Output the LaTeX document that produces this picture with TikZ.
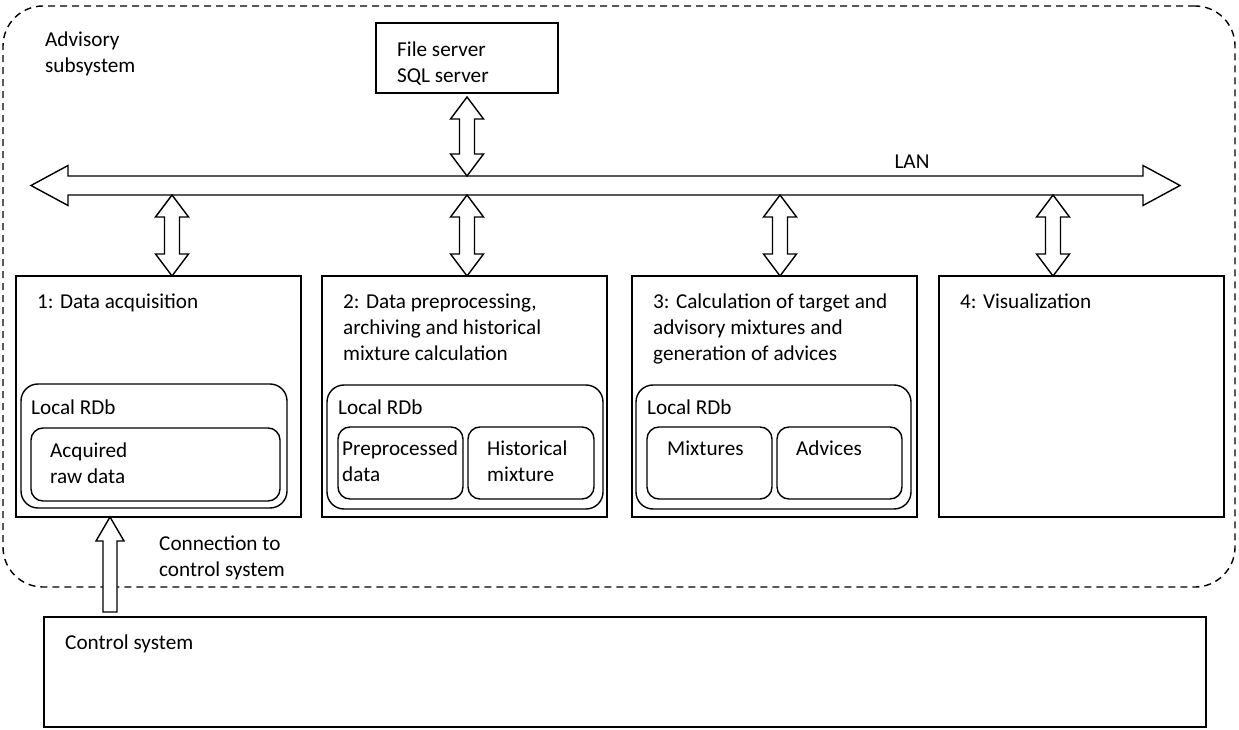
\documentclass[tikz,border=0pt]{standalone}
\usepackage{fontspec}
\setmainfont{Carlito}
\usetikzlibrary{calc}
\newcommand\dfont{\fontsize{21.2}{26}\selectfont}
\tikzset{
  x=1pt,y=1pt,
  ln/.style={line width=1.4pt, black},
  box/.style={ln, draw, inner sep=0, outer sep=0, anchor=south west},
  rbox/.style={box, rounded corners=17pt},
  ibox/.style={box, rounded corners=12pt},
  advbox/.style={box, rounded corners=40pt, dash pattern=on 7pt off 5pt},
  txt/.style={inner sep=0, anchor=north west, align=left, font=\dfont},
  blk/.style={ln, draw, fill=white, line join=miter},
}
% vertical double block arrow: #1 top tip, #2 bottom tip
\newcommand\vdbl[2]{\draw[blk] let \p1=#1, \p2=#2 in
  (\x1,\y1) -- (\x1+16.5pt,\y1-22pt) -- (\x1+7.5pt,\y1-22pt) -- (\x1+7.5pt,\y2+22pt)
  -- (\x1+16.5pt,\y2+22pt) -- (\x1,\y2) -- (\x1-16.5pt,\y2+22pt) -- (\x1-7.5pt,\y2+22pt)
  -- (\x1-7.5pt,\y1-22pt) -- (\x1-16.5pt,\y1-22pt) -- cycle;}
% horizontal double block arrow: #1 left tip, #2 right tip
\newcommand\hdbl[2]{\draw[blk] let \p1=#1, \p2=#2 in
  (\x1,\y1) -- (\x1+37pt,\y1+20pt) -- (\x1+37pt,\y1+9.5pt) -- (\x2-37pt,\y1+9.5pt)
  -- (\x2-37pt,\y1+20pt) -- (\x2,\y1) -- (\x2-37pt,\y1-20pt) -- (\x2-37pt,\y1-9.5pt)
  -- (\x1+37pt,\y1-9.5pt) -- (\x1+37pt,\y1-20pt) -- cycle;}
% vertical single block arrow: #1 tip (top), #2 tail (bottom)
\newcommand\vup[2]{\draw[blk] let \p1=#1, \p2=#2 in
  (\x1,\y1) -- (\x1+14pt,\y1-24pt) -- (\x1+7pt,\y1-24pt) -- (\x1+7pt,\y2)
  -- (\x1-7pt,\y2) -- (\x1-7pt,\y1-24pt) -- (\x1-14pt,\y1-24pt) -- cycle;}
\begin{document}
\begin{tikzpicture}
\useasboundingbox (0,0) rectangle (1239,729);
\fill[white] (0,0) rectangle (1239,729);

% outer dashed subsystem
\node[advbox, minimum width=1232, minimum height=581] (adv) at (3,142) {};
\node[txt] (advlbl) at (45,697) {Advisory\\subsystem};

% server
\node[box, minimum width=182, minimum height=70] (srv) at (376,636) {};
\node[txt] (srvlbl) at (397,687) {File server\\SQL server};

% LAN bus
\coordinate (lanL) at (31,543.5);
\coordinate (lanR) at (1180,543.5);
\coordinate (lanT) at (467,553);
\hdbl{(lanL)}{(lanR)}
\node[inner sep=0, font=\dfont] (lanlbl) at (912,567) {LAN};

% modules
\node[box, minimum width=285, minimum height=241] (b1) at (16,212) {};
\node[box, minimum width=285, minimum height=241] (b2) at (322,212) {};
\node[box, minimum width=285, minimum height=241] (b3) at (632,212) {};
\node[box, minimum width=285, minimum height=241] (b4) at (939,212) {};
\node[txt] (t1) at (37,435) {1: Data acquisition};
\node[txt] (t2) at (343,435) {2: Data preprocessing,\\archiving and historical\\mixture calculation};
\node[txt] (t3) at (653,435) {3: Calculation of target and\\advisory mixtures and\\generation of advices};
\node[txt] (t4) at (960,435) {4: Visualization};

% local databases
\node[rbox, minimum width=266, minimum height=124] (r1) at (21,221) {};
\node[rbox, minimum width=276, minimum height=124] (r2) at (327,220) {};
\node[rbox, minimum width=275, minimum height=124] (r3) at (636,220) {};
\node[txt] (r1lbl) at (31,329) {Local RDb};
\node[txt] (r2lbl) at (338,329) {Local RDb};
\node[txt] (r3lbl) at (647,329) {Local RDb};

\node[ibox, minimum width=249, minimum height=73] (i1) at (31,228) {};
\node[ibox, minimum width=125, minimum height=72] (ip) at (338,230) {};
\node[ibox, minimum width=126, minimum height=72] (ih) at (468,230) {};
\node[ibox, minimum width=125, minimum height=72] (im) at (647,230) {};
\node[ibox, minimum width=125, minimum height=72] (ia) at (777,230) {};
\node[txt] (i1lbl) at (50,286) {Acquired\\raw data};
\node[txt] (iplbl) at (342,288) {Preprocessed\\data};
\node[txt] (ihlbl) at (487,288) {Historical\\mixture};
\node[txt] (imlbl) at (667,288) {Mixtures};
\node[txt] (ialbl) at (796,288) {Advices};

% control system
\node[box, minimum width=1162, minimum height=110] (ctrl) at (44,2) {};
\node[txt] (ctrllbl) at (65,94) {Control system};
\node[txt] (connlbl) at (159,193) {Connection to\\control system};

% connectors
\vdbl{($(srv.south)+(0,-4)$)}{(lanT)}
\coordinate (a1) at (172,534);
\coordinate (a2) at (467,534);
\coordinate (a3) at (780,534);
\coordinate (a4) at (1053,534);
\vdbl{(a1)}{(a1 |- b1.north)}
\vdbl{(a2)}{(a2 |- b2.north)}
\vdbl{(a3)}{(a3 |- b3.north)}
\vdbl{(a4)}{(a4 |- b4.north)}
\coordinate (c1) at (110,117);
\vup{(c1 |- b1.south)}{(c1)}
\end{tikzpicture}
\end{document}
